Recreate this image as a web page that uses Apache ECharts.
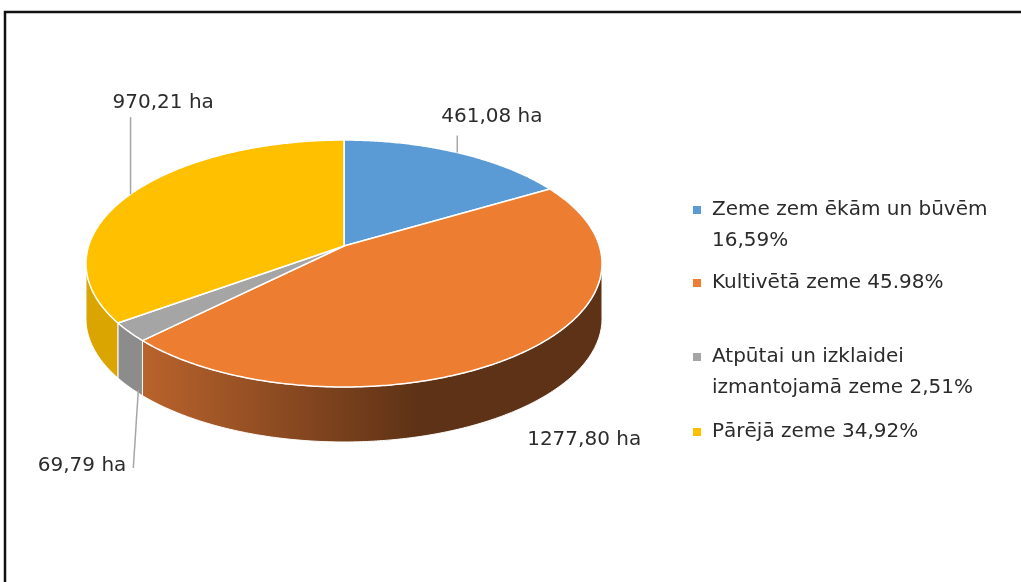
<!DOCTYPE html>
<html><head><meta charset="utf-8">
<script src="https://cdn.jsdelivr.net/npm/echarts@6/dist/echarts.min.js"></script>
<style>html,body{margin:0;padding:0;background:#fff}#c{width:1021px;height:582px}</style>
</head><body><div id="c"></div>
<script>
// ---- data ----
const categories = ['Zeme zem ēkām un būvēm', 'Kultivētā zeme', 'Atpūtai un izklaidei izmantojamā zeme', 'Pārējā zeme'];
const areaHa = [461.08, 1277.80, 69.79, 970.21];
const areaLabels = ['461,08 ha', '1277,80 ha', '69,79 ha', '970,21 ha'];
const legendLines = ['Zeme zem ēkām un būvēm\n16,59%', 'Kultivētā zeme 45.98%', 'Atpūtai un izklaidei\nizmantojamā zeme 2,51%', 'Pārējā zeme 34,92%'];

// ---- styles / layout ----
const topColors = ['#5B9BD5', '#ED7D31', '#A5A5A5', '#FFC000'];
const wallColors = [
  '#41719C',
  {type: 'linear', x: 0, y: 0, x2: 1, y2: 0, colorStops: [{offset: 0, color: '#BA632C'}, {offset: 0.6, color: '#5E3216'}, {offset: 1, color: '#5E3216'}]},
  '#8C8C8C',
  '#DAA500'
];
const FONT = '"DejaVu Sans", Lato, sans-serif';
const FS = 20;
const TXT = '#2B2B2B';
const CX = 344, CY = 246, AX = 255.4, AY = 121, K = 0.1417, DEPTH = 55;
// label placement relative to slice anchor (anchor: top edge or wall bottom)
const labelSpec = [
  {anchor: 'top', from: [0, 0], leader: [0, -17], text: [-16, -36], align: 'left'},
  {anchor: 'bottom', from: null, leader: null, text: [65, 31], align: 'center'},
  {anchor: 'bottom', from: [9, 3], leader: [4, 81], text: [-3, 79], align: 'right'},
  {anchor: 'top', from: [0, 0], leader: [0, -77], text: [-18, -91], align: 'left'}
];

const total = areaHa.reduce((a, b) => a + b, 0);
const cum = [0];
areaHa.forEach((v, i) => cum.push(cum[i] + v));

function project(t, dy) {
  const u = Math.sin(t), v = Math.cos(t), s = 1 / (1 + K * v);
  return [CX + AX * u * s, CY - AY * v * s + (dy || 0)];
}

function makeRender(idx) {
  return function (params, api) {
    const val = api.value(0);
    const t0 = cum[idx] / total * Math.PI * 2;
    const t1 = t0 + val / total * Math.PI * 2;
    const children = [];
    const vis0 = Math.acos(-K), vis1 = Math.PI * 2 - Math.acos(-K);
    const w0 = Math.max(t0, vis0), w1 = Math.min(t1, vis1);
    if (w1 > w0) {
      const topArc = [], botArc = [];
      const n = Math.max(4, Math.ceil((w1 - w0) / 0.01));
      for (let k = 0; k <= n; k++) {
        const t = w0 + (w1 - w0) * k / n;
        topArc.push(project(t));
        botArc.push(project(t, DEPTH));
      }
      children.push({
        type: 'polygon', z2: 1,
        shape: {points: topArc.concat(botArc.reverse())},
        style: {fill: wallColors[idx], stroke: '#fff', lineWidth: 1}
      });
    }
    const pts = [[CX, CY]];
    const n2 = Math.max(4, Math.ceil((t1 - t0) / 0.01));
    for (let k = 0; k <= n2; k++) pts.push(project(t0 + (t1 - t0) * k / n2));
    children.push({
      type: 'polygon', z2: 10,
      shape: {points: pts},
      style: {fill: topColors[idx], stroke: '#fff', lineWidth: 1.5, lineJoin: 'round'}
    });
    const spec = labelSpec[idx];
    const mid = (t0 + t1) / 2;
    const a = project(mid, spec.anchor === 'bottom' ? DEPTH : 0);
    if (spec.leader) {
      children.push({
        type: 'line', z2: 20,
        shape: {x1: a[0] + spec.from[0], y1: a[1] + spec.from[1], x2: a[0] + spec.leader[0], y2: a[1] + spec.leader[1]},
        style: {stroke: '#A6A6A6', lineWidth: 1.5}
      });
    }
    children.push({
      type: 'text', z2: 21,
      style: {
        x: a[0] + spec.text[0], y: a[1] + spec.text[1],
        text: areaLabels[idx], fill: TXT,
        fontFamily: FONT, fontSize: FS, align: spec.align, verticalAlign: 'middle'
      }
    });
    return {type: 'group', children: children};
  };
}

// two-line legend items use a tall icon whose square sits at the top (aligned to first line)
const legendTops = [194.5, 267.5, 341.5, 416.5];
const chart = echarts.init(document.getElementById('c'), null, {renderer: 'canvas'});
chart.setOption({
  animation: false,
  backgroundColor: '#fff',
  graphic: [{
    type: 'rect', shape: {x: 5, y: 12, width: 1100, height: 700},
    style: {fill: 'none', stroke: '#111', lineWidth: 2.5}
  }],
  legend: categories.map((c, i) => {
    const two = legendLines[i].indexOf('\n') >= 0;
    return {
      data: [c], left: 693, top: legendTops[i], orient: 'vertical', padding: 0,
      icon: two ? 'path://M0,0h8v8h-8z M0,39h0.01' : 'rect',
      itemWidth: 8, itemHeight: two ? 39 : 8,
      formatter: () => legendLines[i],
      textStyle: {
        fontFamily: FONT, fontSize: FS, color: TXT, lineHeight: 31,
        padding: [0, 0, 0, 6]
      }
    };
  }),
  series: categories.map((c, i) => ({
    type: 'custom', name: c, coordinateSystem: 'none',
    itemStyle: {color: topColors[i]},
    data: [[areaHa[i]]],
    renderItem: makeRender(i)
  }))
});
</script></body></html>
